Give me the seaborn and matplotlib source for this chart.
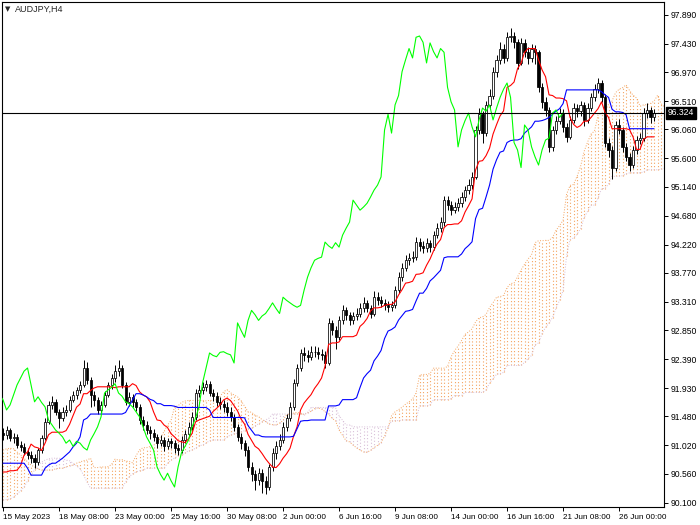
import numpy as np
import pandas as pd
import matplotlib
matplotlib.use("Agg")
import matplotlib.pyplot as plt
import matplotlib.transforms as mtransforms
import seaborn as sns

# ---------------- data ----------------
symbol_title = "AUDJPY,H4"
current_price = 96.324

opens = [
    91.22, 91.18, 91.26, 91.13, 91.15, 91.02, 90.99, 90.91, 90.86, 90.81,
    90.75, 90.94, 91.13, 91.39, 91.66, 91.71, 91.55, 91.45, 91.55, 91.58,
    91.74, 91.82, 91.90, 91.98, 92.25, 92.06, 91.82, 91.74, 91.58, 91.66,
    91.82, 91.98, 92.09, 92.20, 92.25, 91.98, 91.71, 91.79, 91.70, 91.63,
    91.42, 91.34, 91.26, 91.21, 91.15, 91.05, 91.10, 91.00, 91.08, 91.05,
    90.98, 90.94, 91.10, 91.20, 91.31, 91.47, 91.85, 91.90, 91.94, 92.00,
    91.85, 91.80, 91.71, 91.68, 91.63, 91.55, 91.47, 91.31, 91.15, 91.05,
    90.94, 90.67, 90.55, 90.46, 90.57, 90.45, 90.35, 90.67, 90.90, 91.00,
    91.10, 91.31, 91.45, 91.63, 92.01, 92.25, 92.49, 92.45, 92.43, 92.50,
    92.51, 92.48, 92.46, 92.33, 92.97, 92.85, 92.74, 93.01, 93.17, 93.10,
    93.01, 93.08, 93.12, 93.20, 93.29, 93.20, 93.12, 93.38, 93.33, 93.29,
    93.25, 93.22, 93.25, 93.49, 93.70, 93.85, 93.97, 94.00, 94.02, 94.26,
    94.20, 94.16, 94.25, 94.18, 94.37, 94.48, 94.58, 94.93, 94.85, 94.77,
    94.82, 94.88, 94.98, 95.09, 95.17, 95.30, 96.05, 96.30, 96.00, 96.45,
    96.60, 96.98, 97.17, 97.35, 97.20, 97.53, 97.55, 97.45, 97.12, 97.44,
    97.30, 97.20, 97.35, 97.29, 96.73, 96.50, 96.37, 95.78, 96.05, 96.20,
    96.32, 96.10, 95.94, 96.21, 96.40, 96.35, 96.45, 96.21, 96.40, 96.57,
    96.70, 96.80, 96.57, 95.85, 95.73, 95.45, 96.13, 96.05, 95.78, 95.62,
    95.49, 95.73, 95.89, 95.92, 96.32, 96.37, 96.25,
]
highs = [
    91.30, 91.33, 91.30, 91.22, 91.20, 91.08, 91.05, 90.98, 90.92, 90.88,
    90.98, 91.18, 91.45, 91.72, 91.80, 91.76, 91.60, 91.62, 91.66, 91.80,
    91.88, 91.95, 92.05, 92.38, 92.35, 92.10, 91.88, 91.78, 91.72, 91.88,
    92.03, 92.15, 92.30, 92.38, 92.30, 92.02, 91.86, 91.84, 91.76, 91.68,
    91.48, 91.40, 91.32, 91.28, 91.20, 91.18, 91.15, 91.14, 91.14, 91.10,
    91.03, 91.16, 91.26, 91.38, 91.55, 91.92, 91.98, 92.02, 92.06, 92.05,
    91.92, 91.86, 91.78, 91.74, 91.70, 91.62, 91.52, 91.36, 91.22, 91.10,
    91.00, 90.75, 90.62, 90.65, 90.64, 90.52, 90.72, 90.98, 91.08, 91.20,
    91.38, 91.52, 91.70, 92.08, 92.32, 92.56, 92.58, 92.54, 92.60, 92.60,
    92.58, 92.56, 92.52, 93.05, 93.02, 92.92, 93.08, 93.25, 93.22, 93.15,
    93.14, 93.20, 93.28, 93.38, 93.34, 93.26, 93.48, 93.46, 93.40, 93.35,
    93.32, 93.32, 93.56, 93.78, 93.92, 94.06, 94.08, 94.12, 94.34, 94.32,
    94.28, 94.32, 94.30, 94.44, 94.56, 94.66, 95.00, 95.00, 94.92, 94.90,
    94.96, 95.06, 95.16, 95.26, 95.38, 96.12, 96.40, 96.36, 96.52, 96.70,
    97.05, 97.25, 97.45, 97.42, 97.62, 97.68, 97.62, 97.50, 97.52, 97.50,
    97.38, 97.42, 97.40, 97.33, 96.80, 96.58, 96.42, 96.12, 96.28, 96.40,
    96.38, 96.16, 96.28, 96.48, 96.46, 96.52, 96.50, 96.48, 96.64, 96.78,
    96.88, 96.85, 96.62, 95.92, 95.80, 96.20, 96.22, 96.10, 95.85, 95.68,
    95.80, 95.95, 96.00, 96.40, 96.48, 96.42, 96.38,
]
lows = [
    91.10, 91.12, 91.08, 91.05, 90.97, 90.92, 90.86, 90.80, 90.74, 90.65,
    90.70, 90.90, 91.10, 91.35, 91.60, 91.50, 91.30, 91.40, 91.48, 91.55,
    91.70, 91.76, 91.85, 91.95, 92.00, 91.62, 91.65, 91.52, 91.52, 91.62,
    91.78, 91.92, 92.03, 92.12, 91.93, 91.66, 91.64, 91.62, 91.56, 91.36,
    91.26, 91.20, 91.12, 91.08, 90.98, 91.00, 90.92, 90.95, 90.98, 90.90,
    90.86, 90.90, 91.05, 91.15, 91.26, 91.42, 91.78, 91.84, 91.88, 91.80,
    91.72, 91.65, 91.60, 91.55, 91.48, 91.40, 91.24, 91.08, 90.95, 90.85,
    90.60, 90.45, 90.30, 90.38, 90.25, 90.24, 90.30, 90.60, 90.80, 90.94,
    91.05, 91.25, 91.40, 91.58, 91.96, 92.20, 92.36, 92.35, 92.38, 92.42,
    92.40, 92.38, 92.25, 92.30, 92.78, 92.55, 92.70, 92.96, 93.02, 92.94,
    92.96, 93.02, 93.06, 93.15, 93.14, 93.05, 93.08, 93.26, 93.22, 93.18,
    93.15, 93.16, 93.20, 93.44, 93.64, 93.80, 93.90, 93.94, 93.98, 94.12,
    94.08, 94.10, 94.10, 94.14, 94.32, 94.42, 94.52, 94.78, 94.70, 94.72,
    94.76, 94.82, 94.92, 95.02, 95.10, 95.26, 95.98, 95.84, 95.95, 96.38,
    96.55, 96.90, 97.10, 97.12, 97.15, 97.45, 97.36, 97.02, 97.08, 97.22,
    97.10, 97.14, 97.10, 96.66, 96.40, 96.28, 95.70, 95.72, 95.98, 96.14,
    96.02, 95.86, 95.90, 96.16, 96.26, 96.28, 96.12, 96.16, 96.35, 96.52,
    96.64, 96.50, 95.78, 95.62, 95.26, 95.40, 95.98, 95.70, 95.55, 95.40,
    95.44, 95.66, 95.82, 95.88, 96.24, 96.16, 96.20,
]
closes = [
    91.18, 91.26, 91.13, 91.15, 91.02, 90.99, 90.91, 90.86, 90.81, 90.75,
    90.94, 91.13, 91.39, 91.66, 91.71, 91.55, 91.45, 91.55, 91.58, 91.74,
    91.82, 91.90, 91.98, 92.25, 92.06, 91.82, 91.74, 91.58, 91.66, 91.82,
    91.98, 92.09, 92.20, 92.25, 91.98, 91.71, 91.79, 91.70, 91.63, 91.42,
    91.34, 91.26, 91.21, 91.15, 91.05, 91.10, 91.00, 91.08, 91.05, 90.98,
    90.94, 91.10, 91.20, 91.31, 91.47, 91.85, 91.90, 91.94, 92.00, 91.85,
    91.80, 91.71, 91.68, 91.63, 91.55, 91.47, 91.31, 91.15, 91.05, 90.94,
    90.67, 90.55, 90.46, 90.57, 90.45, 90.35, 90.67, 90.90, 91.00, 91.10,
    91.31, 91.45, 91.63, 92.01, 92.25, 92.49, 92.45, 92.43, 92.50, 92.51,
    92.48, 92.46, 92.33, 92.97, 92.85, 92.74, 93.01, 93.17, 93.10, 93.01,
    93.08, 93.12, 93.20, 93.29, 93.20, 93.12, 93.38, 93.33, 93.29, 93.25,
    93.22, 93.25, 93.49, 93.70, 93.85, 93.97, 94.00, 94.02, 94.26, 94.20,
    94.16, 94.25, 94.18, 94.37, 94.48, 94.58, 94.93, 94.85, 94.77, 94.82,
    94.88, 94.98, 95.09, 95.17, 95.30, 96.05, 96.30, 96.00, 96.45, 96.60,
    96.98, 97.17, 97.35, 97.20, 97.53, 97.55, 97.45, 97.12, 97.44, 97.30,
    97.20, 97.35, 97.29, 96.73, 96.50, 96.37, 95.78, 96.05, 96.20, 96.32,
    96.10, 95.94, 96.21, 96.40, 96.35, 96.45, 96.21, 96.40, 96.57, 96.70,
    96.80, 96.57, 95.85, 95.73, 95.45, 96.13, 96.05, 95.78, 95.62, 95.49,
    95.73, 95.89, 95.92, 96.32, 96.37, 96.25, 96.324,
]

# Ichimoku values at the left edge (history before the visible window)
tenkan_head = [90.59, 90.59, 90.61, 90.61, 90.62, 90.69, 90.86, 90.91]
kijun_head = [90.73, 90.73, 90.73, 90.73, 90.73, 90.73, 90.73, 90.65, 90.54, 90.54,
              90.54, 90.54, 90.65, 90.70, 90.73, 90.73, 90.77, 90.81, 90.86, 90.91,
              90.99, 91.05, 91.15, 91.42, 91.45]
span_a_head = [90.94, 90.96, 90.97, 90.96, 90.91, 90.86, 90.81, 90.75, 90.70, 90.67,
               90.64, 90.62, 90.62, 90.62, 90.62, 90.64, 90.65, 90.65, 90.67, 90.69,
               90.70, 90.73, 90.75, 90.77, 90.78, 90.81]
span_b_head = [90.14, 90.15, 90.16, 90.19, 90.24, 90.29, 90.35, 90.45, 90.54, 90.62,
               90.69, 90.75, 90.78, 90.80, 90.81, 90.81, 90.81, 90.80, 90.78, 90.77,
               90.73, 90.69, 90.64, 90.54, 90.43, 90.33, 90.33, 90.33, 90.33, 90.33,
               90.33, 90.33, 90.33, 90.33, 90.33, 90.43, 90.51, 90.56, 90.59, 90.61,
               90.62, 90.65, 90.65, 90.65, 90.65, 90.65, 90.65, 90.73, 90.78, 90.81,
               90.85, 90.86, 90.89, 90.93, 90.94, 90.97, 91.01, 91.02, 91.05, 91.09,
               91.10, 91.10, 91.10, 91.10, 91.15, 91.18, 91.20, 91.21, 91.23, 91.25,
               91.28, 91.29, 91.32, 91.36, 91.39, 91.42, 91.45]

price_ticks = [90.100, 90.560, 91.020, 91.480, 91.930, 92.390, 92.850, 93.310, 93.770,
               94.220, 94.680, 95.140, 95.600, 96.060, 96.510, 96.970, 97.430, 97.890]
time_labels = ["15 May 2023", "18 May 08:00", "23 May 00:00", "25 May 16:00",
               "30 May 08:00", "2 Jun 00:00", "6 Jun 16:00", "9 Jun 08:00",
               "14 Jun 00:00", "16 Jun 16:00", "21 Jun 08:00", "26 Jun 00:00"]
bars_per_label = 16

# ---------------- Ichimoku (9, 26, 52) ----------------
df = pd.DataFrame({"open": opens, "high": highs, "low": lows, "close": closes})
n = len(df)
df["bar"] = np.arange(n)
hi, lo = df["high"], df["low"]
tenkan = ((hi.rolling(9).max() + lo.rolling(9).min()) / 2).to_numpy()
tenkan[:len(tenkan_head)] = tenkan_head
kijun = ((hi.rolling(26).max() + lo.rolling(26).min()) / 2).to_numpy()
kijun[:len(kijun_head)] = kijun_head
span_b_src = ((hi.rolling(52).max() + lo.rolling(52).min()) / 2).to_numpy()

span_a = np.full(n + 26, np.nan)
span_a[26:] = (tenkan + kijun) / 2
span_a[:len(span_a_head)] = span_a_head
span_b = np.full(n + 26, np.nan)
span_b[26:] = span_b_src
span_b[:len(span_b_head)] = span_b_head

df["tenkan"] = tenkan
df["kijun"] = kijun
chikou = pd.DataFrame({"bar": np.arange(n) - 26, "value": closes})
chikou = chikou[chikou["bar"] >= -1]

# ---------------- figure ----------------
sns.set_style("white")
plt.rcParams["font.family"] = ["Liberation Sans", "DejaVu Sans"]

W, H = 700, 525
fig = plt.figure(figsize=(W / 100, H / 100), dpi=100)
ax = fig.add_axes([2 / W, 18 / H, 662 / W, 505 / H])

# cloud: dotted vertical hatching between span A and span B
pos = np.arange(n + 26)
valid = ~np.isnan(span_a) & ~np.isnan(span_b)
up = valid & (span_a >= span_b)
dn = valid & (span_a < span_b)
dot = (0, (1.0, 2.0))
ax.vlines(pos[up], span_b[up], span_a[up], colors="#F4A460", linestyles=dot, linewidth=0.8, zorder=1)
ax.vlines(pos[dn], span_a[dn], span_b[dn], colors="#D8BFD8", linestyles=dot, linewidth=0.8, zorder=1)
cloud = pd.DataFrame({"bar": pos, "a": span_a, "b": span_b})
sns.lineplot(data=cloud, x="bar", y="a", ax=ax, color="#F4A460", linewidth=0.7,
             linestyle=":", estimator=None, sort=False, zorder=1)
sns.lineplot(data=cloud, x="bar", y="b", ax=ax, color="#D8BFD8", linewidth=0.7,
             linestyle=":", estimator=None, sort=False, zorder=1)

# candles
o = df["open"].to_numpy(); c = df["close"].to_numpy()
x = df["bar"].to_numpy()
bull = c >= o
ax.vlines(x, df["low"], df["high"], colors="black", linewidth=0.7, zorder=3)
body_bot = np.minimum(o, c)
body_h = np.maximum(np.abs(c - o), 0.012)
ax.bar(x[bull], body_h[bull], bottom=body_bot[bull], width=0.6, color="white",
       edgecolor="black", linewidth=0.55, zorder=4)
ax.bar(x[~bull], body_h[~bull], bottom=body_bot[~bull], width=0.6, color="black",
       edgecolor="black", linewidth=0.55, zorder=4)

# Ichimoku lines
sns.lineplot(data=df, x="bar", y="tenkan", ax=ax, color="#FF0000", linewidth=0.8,
             estimator=None, sort=False, zorder=5)
sns.lineplot(data=df, x="bar", y="kijun", ax=ax, color="#0000FF", linewidth=0.8,
             estimator=None, sort=False, zorder=5)
sns.lineplot(data=chikou, x="bar", y="value", ax=ax, color="#00FF00", linewidth=0.8,
             estimator=None, sort=False, zorder=5)

# current price line
ax.axhline(current_price, color="black", linewidth=0.8, zorder=6)

ax.set_xlim(-0.3, -0.3 + 662 / 3.5)
ax.set_ylim(90.031, 98.093)

# price axis on the right
ax.yaxis.tick_right()
ax.set_yticks(price_ticks)
ax.set_yticklabels([f"{v:.3f}" for v in price_ticks])
ax.tick_params(axis="y", which="both", right=True, left=False, labelright=True,
               labelleft=False, direction="out", length=3, width=0.7, pad=1.5,
               labelsize=6.2, colors="black")

# time axis
tick_bars = [i * bars_per_label for i in range(len(time_labels))]
ax.set_xticks(tick_bars)
ax.set_xticklabels(time_labels)
ax.tick_params(axis="x", direction="out", length=3, width=0.7, pad=2, labelsize=5.9,
               bottom=True, colors="black")
for lab in ax.get_xticklabels():
    lab.set_horizontalalignment("left")

ax.set_xlabel("")
ax.set_ylabel("")
for s in ax.spines.values():
    s.set_color("black")
    s.set_linewidth(0.8)

# current price tag
trans = mtransforms.blended_transform_factory(ax.transAxes, ax.transData)
ax.text(1.006, current_price, f"{current_price:.3f}", transform=trans, ha="left",
        va="center", fontsize=6.2, color="white", zorder=10, clip_on=False,
        bbox=dict(boxstyle="square,pad=0.18", facecolor="black", edgecolor="black"))

# title
fig.text(5 / W, 1 - 9 / H, "\u25BC", fontsize=5, ha="left", va="center",
         family=["DejaVu Sans"])
fig.text(15 / W, 1 - 9 / H, symbol_title, fontsize=6.5, ha="left", va="center")

fig.savefig("out.png", dpi=100)
